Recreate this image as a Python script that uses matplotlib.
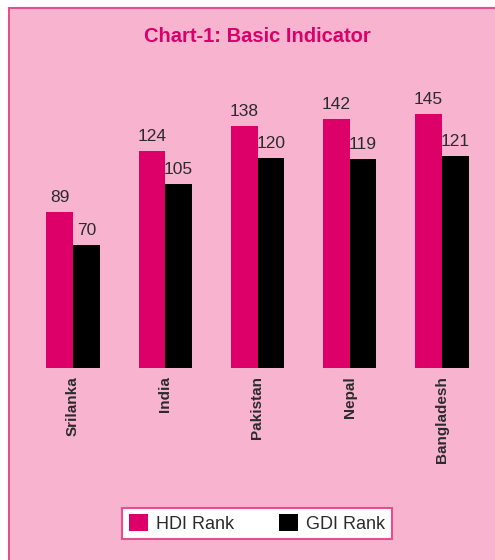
import matplotlib
matplotlib.use("Agg")
import matplotlib.pyplot as plt
import numpy as np
from matplotlib.patches import Rectangle

countries = ["Srilanka", "India", "Pakistan", "Nepal", "Bangladesh"]
hdi_rank = [89, 124, 138, 142, 145]
gdi_rank = [70, 105, 120, 119, 121]
series_names = ["HDI Rank", "GDI Rank"]
title = "Chart-1: Basic Indicator"

W, H = 495, 560
dpi = 100
plt.rcParams['font.family'] = ['Liberation Sans', 'DejaVu Sans']

bg_pink = "#f8b4cf"
edge_pink = "#e4508f"
magenta = "#dc0068"
title_col = "#d8006a"
text_col = "#2b2b2b"

fig = plt.figure(figsize=(W / dpi, H / dpi), dpi=dpi, facecolor="white")
panel = Rectangle((8.5 / W, -0.05), 1.5, 1 - 7.5 / H + 0.05, transform=fig.transFigure,
                  facecolor=bg_pink, edgecolor=edge_pink, linewidth=1.5, zorder=-10)
fig.patches.append(panel)

# axes placement (pixels from top-left)
ax_left, ax_right = 27, 488
base_y = 368
scale = 1.753  # px per unit
ymax = 160
ax_bottom = (H - base_y) / H
ax_height = ymax * scale / H
ax = fig.add_axes([ax_left / W, ax_bottom, (ax_right - ax_left) / W, ax_height])
ax.set_zorder(5)
ax.set_facecolor("none")
ax.patch.set_alpha(0)
for s in ax.spines.values():
    s.set_visible(False)

x = np.arange(len(countries))
bw = 0.29
b1 = ax.bar(x - bw / 2, hdi_rank, width=bw, color=magenta, label=series_names[0], zorder=2)
b2 = ax.bar(x + bw / 2, gdi_rank, width=bw, color="black", label=series_names[1], zorder=2)
for bars, vals in ((b1, hdi_rank), (b2, gdi_rank)):
    for rect, v in zip(bars, vals):
        ax.annotate(str(v), (rect.get_x() + rect.get_width() / 2, v),
                    xytext=(0, 5), textcoords="offset points",
                    ha="center", va="bottom", fontsize=12.5, color=text_col)

ax.set_xlim(-0.5, len(countries) - 0.5)
ax.set_ylim(0, ymax)
ax.set_yticks([])
ax.set_xticks(x)
ax.set_xticklabels(countries, rotation=90, fontsize=11, fontweight="bold",
                   color=text_col, va="top", ha="center")
ax.tick_params(axis="x", length=0, pad=6)

fig.text(257 / W, 1 - 37 / H, title, ha="center", va="center",
         fontsize=14.5, fontweight="bold", color=title_col)

leg = fig.legend(handles=[b1, b2], labels=series_names, loc="center",
                 bbox_to_anchor=(257 / W, 1 - 523.5 / H), ncol=2, fontsize=13,
                 frameon=True, fancybox=False, framealpha=1,
                 handlelength=1.05, handleheight=1.05, handletextpad=0.45,
                 columnspacing=2.5, borderpad=0.35, labelcolor=text_col)
leg.get_frame().set_edgecolor(edge_pink)
leg.get_frame().set_linewidth(1.5)
leg.get_frame().set_facecolor("white")

fig.savefig("out.png", dpi=dpi, facecolor="white")
